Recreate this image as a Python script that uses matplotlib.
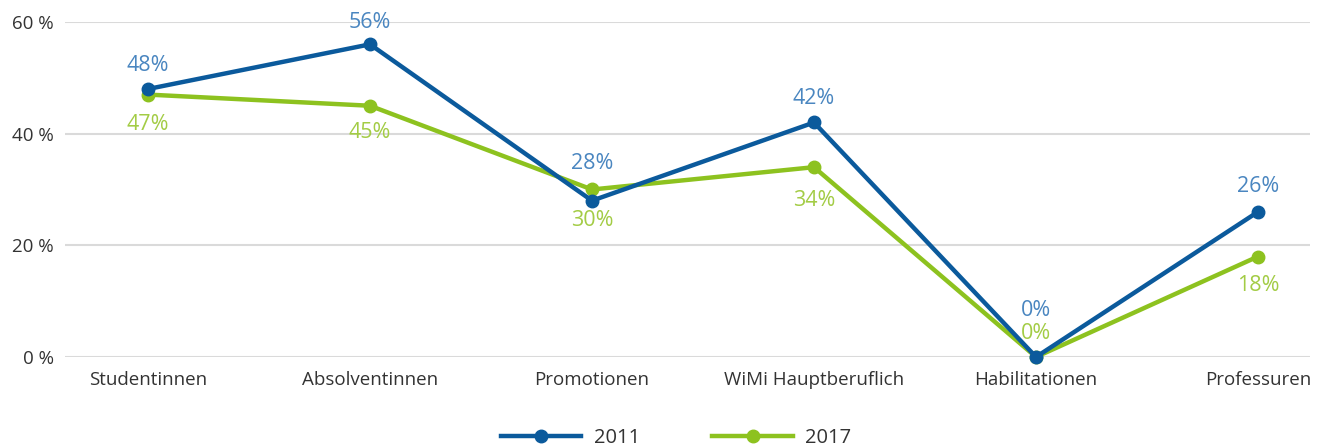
import matplotlib
matplotlib.use("Agg")
import matplotlib.pyplot as plt
from matplotlib.lines import Line2D

categories = ["Studentinnen", "Absolventinnen", "Promotionen", "WiMi Hauptberuflich", "Habilitationen", "Professuren"]
values_2011 = [48, 56, 28, 42, 0, 26]
values_2017 = [47, 45, 30, 34, 0, 18]
yticks = [0, 20, 40, 60]
ytick_labels = ["0 %", "20 %", "40 %", "60 %"]

# label offsets in pixels (positive = above the point)
offsets_2011 = [24, 22, 37, 24, 47, 25]
offsets_2017 = [-30, -27, -31, -33, 24, -29]

blue = "#0b5a9c"
green = "#8dc21f"
blue_lbl = "#4a86c0"
green_lbl = "#a3cc45"

plt.rcParams['font.family'] = ['Open Sans', 'DejaVu Sans']

fig = plt.figure(figsize=(13.28, 4.48), dpi=100)
ax = fig.add_axes([65/1328, (448-357)/448, (1310-65)/1328, 335/448])

x = list(range(len(categories)))
ax.plot(x, values_2017, color=green, lw=3.2, marker='o', ms=9, clip_on=False, zorder=3)
ax.plot(x, values_2011, color=blue, lw=3.2, marker='o', ms=9, clip_on=False, zorder=4)

for i, v in enumerate(values_2011):
    ax.annotate(f"{v}%", (i, v), xytext=(0, offsets_2011[i] * 0.72), textcoords='offset points',
                ha='center', va='center', color=blue_lbl, fontsize=15.5)
for i, v in enumerate(values_2017):
    ax.annotate(f"{v}%", (i, v), xytext=(0, offsets_2017[i] * 0.72), textcoords='offset points',
                ha='center', va='center', color=green_lbl, fontsize=15.5)

ax.set_xlim(-83/222, 5 + 52/222)
ax.set_ylim(0, 60)
ax.set_yticks(yticks)
ax.set_yticklabels(ytick_labels)
ax.set_xticks(x)
ax.set_xticklabels(categories)
ax.tick_params(axis='both', length=0, labelsize=13.5, colors='#333333')
ax.tick_params(axis='x', pad=10)
ax.tick_params(axis='y', pad=8)
ax.grid(axis='y', color='#dadada', lw=1.5)
ax.set_axisbelow(True)
for s in ax.spines.values():
    s.set_visible(False)

handles = [Line2D([], [], color=blue, lw=3.2, marker='o', ms=9),
           Line2D([], [], color=green, lw=3.2, marker='o', ms=9)]
leg = fig.legend(handles, ["2011", "2017"], loc='center', bbox_to_anchor=(676/1328, 1 - 438/448),
                 ncol=2, frameon=False, fontsize=14.5, handlelength=4.0, columnspacing=3.6,
                 handletextpad=0.6)
for t in leg.get_texts():
    t.set_color('#333333')

fig.savefig("out.png", dpi=100)
